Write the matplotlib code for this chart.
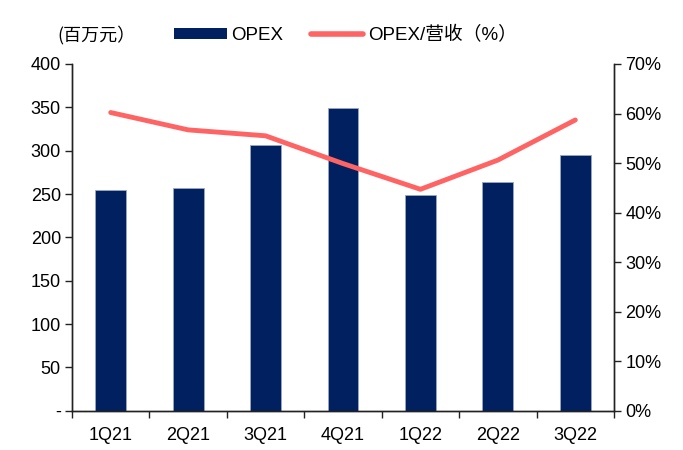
import matplotlib
matplotlib.use("Agg")
import matplotlib.pyplot as plt
import numpy as np
from matplotlib.patches import Patch
from matplotlib.lines import Line2D

plt.rcParams['font.family'] = ['Liberation Sans', 'Noto Sans CJK SC', 'DejaVu Sans']

categories = ["1Q21", "2Q21", "3Q21", "4Q21", "1Q22", "2Q22", "3Q22"]
opex = [255, 257, 306.5, 349, 249, 263.5, 295]
opex_ratio = [60.2, 56.7, 55.5, 49.9, 44.7, 50.6, 58.7]
left_ticks = [0, 50, 100, 150, 200, 250, 300, 350, 400]
left_labels = ["-", "50", "100", "150", "200", "250", "300", "350", "400"]
right_ticks = [0, 10, 20, 30, 40, 50, 60, 70]
right_labels = [f"{t}%" for t in right_ticks]

bar_color = "#002060"
line_color = "#FF6464"

fig = plt.figure(figsize=(6.83, 4.5), dpi=100)
ax = fig.add_axes([0.1054, 0.0873, 0.7936, 0.7705])
ax2 = ax.twinx()

x = np.arange(len(categories))
ax.bar(x, opex, width=0.4, color=bar_color, edgecolor="#9AA8C4", linewidth=0.6, zorder=2)
ax2.plot(x, opex_ratio, color=line_color, linewidth=3.5, solid_capstyle="round", zorder=3)

ax.set_xlim(-0.5, len(categories) - 0.5)
ax.set_ylim(0, 400)
ax2.set_ylim(0, 70)

ax.set_yticks(left_ticks)
ax.set_yticklabels(left_labels)
ax2.set_yticks(right_ticks)
ax2.set_yticklabels(right_labels)

ax.set_xticks(x)
ax.set_xticklabels(categories)
ax.set_xticks(np.arange(-0.5, len(categories), 1), minor=True)
ax.tick_params(axis="x", which="major", length=0, labelsize=13, pad=12)
ax.tick_params(axis="x", which="minor", length=5, width=1, direction="out", color="#222222")
ax.tick_params(axis="y", length=5, width=1, direction="out", labelsize=13, color="#222222", pad=3)
ax2.tick_params(axis="y", length=5, width=1, direction="out", labelsize=13, color="#222222", pad=3)

for a in (ax, ax2):
    a.spines["top"].set_visible(False)
    for s in ("left", "right", "bottom"):
        a.spines[s].set_color("#222222")
        a.spines[s].set_linewidth(1)

fig.text(57 / 683, 1 - 35 / 450, "(百万元）", fontsize=13, family=['Noto Sans CJK SC'],
         va="center", ha="left")

handles = [Patch(facecolor=bar_color, edgecolor="none"),
           Line2D([0], [0], color=line_color, linewidth=4, solid_capstyle="round")]
fig.legend(handles, ["OPEX", "OPEX/营收（%）"], loc="center left",
           bbox_to_anchor=(174 / 683, 1 - 35 / 450), ncol=2, frameon=False, fontsize=13.5,
           handlelength=2.8, handletextpad=0.27, columnspacing=1.45, handleheight=0.55,
           borderpad=0, borderaxespad=0)

fig.savefig("out.png", dpi=100)
